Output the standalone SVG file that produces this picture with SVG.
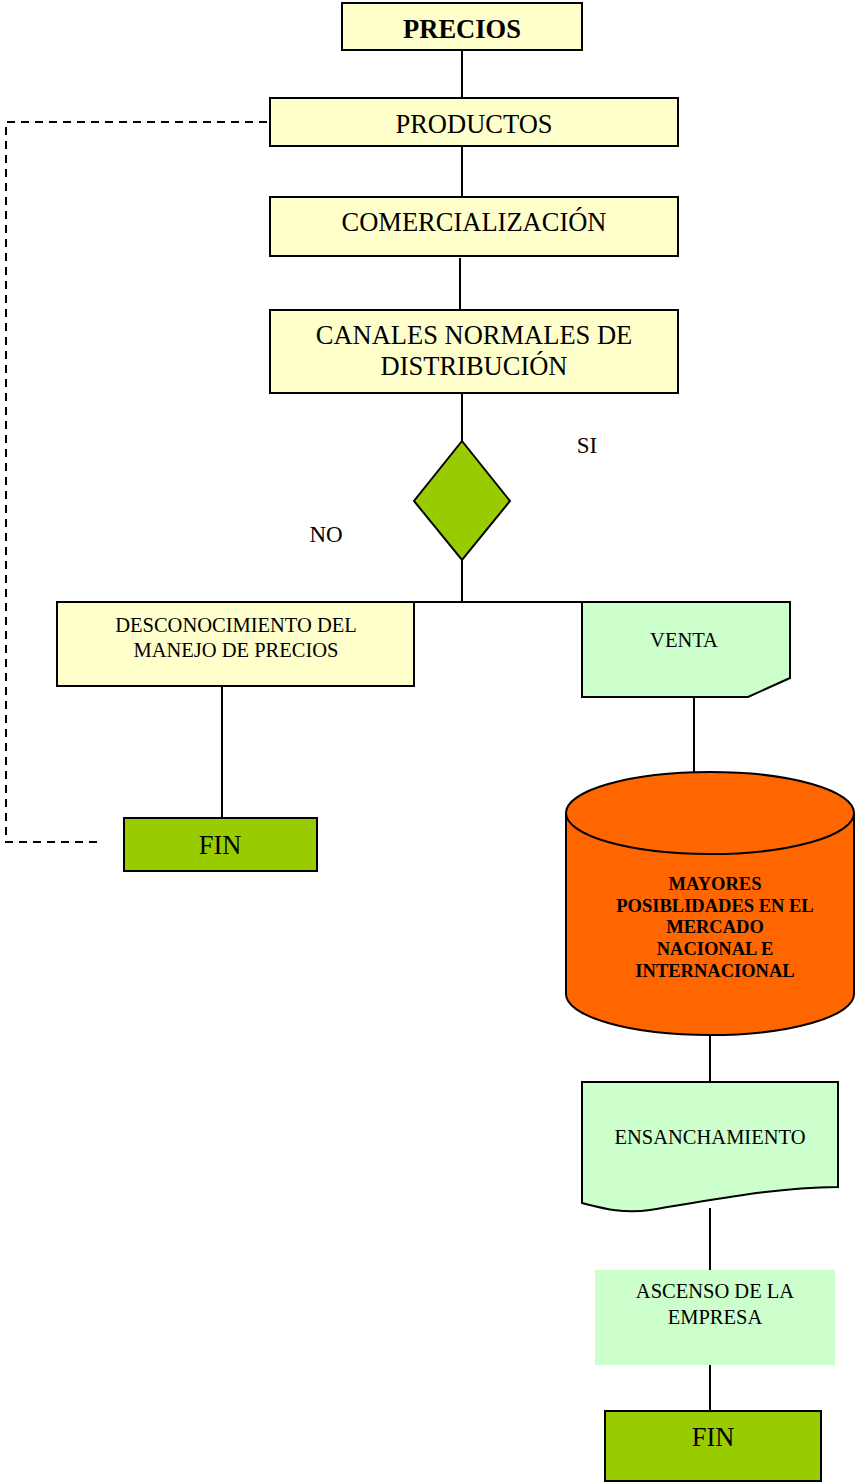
<svg xmlns="http://www.w3.org/2000/svg" width="855" height="1483" viewBox="0 0 855 1483">
  <style>
    text { font-family: "Liberation Serif", "Times New Roman", serif; fill: #000; text-anchor: middle; }
    .big { font-size: 26.5px; }
    .mid { font-size: 20.5px; }
    .lbl { font-size: 23px; }
    .cyl { font-size: 18.5px; font-weight: bold; }
    .yellow { fill: #FFFFCC; stroke: #000; stroke-width: 2; }
    .green { fill: #CCFFCC; stroke: #000; stroke-width: 2; }
    .lime { fill: #99CC00; stroke: #000; stroke-width: 2; }
    .conn { stroke: #000; stroke-width: 2; fill: none; }
    .dash { stroke: #000; stroke-width: 2; fill: none; stroke-dasharray: 8 6; }
  </style>

  <!-- connectors -->
  <g id="connectors">
    <line class="conn" x1="462" y1="50" x2="462" y2="98"/>
    <line class="conn" x1="462" y1="146" x2="462" y2="197"/>
    <line class="conn" x1="460" y1="258" x2="460" y2="310"/>
    <line class="conn" x1="462" y1="393" x2="462" y2="441"/>
    <line class="conn" x1="462" y1="560" x2="462" y2="602"/>
    <line class="conn" x1="414" y1="602" x2="582" y2="602"/>
    <line class="conn" x1="222" y1="686" x2="222" y2="818"/>
    <line class="conn" x1="694" y1="697" x2="694" y2="772"/>
    <line class="conn" x1="710" y1="1035" x2="710" y2="1082"/>
    <line class="conn" x1="710" y1="1208" x2="710" y2="1270"/>
    <line class="conn" x1="710" y1="1365" x2="710" y2="1411"/>
    <polyline class="dash" points="97,842 6,842 6,122 268,122"/>
  </g>

  <g id="precios">
    <rect class="yellow" x="342" y="3" width="240" height="47"/>
    <text class="big" x="462" y="38" font-weight="bold">PRECIOS</text>
  </g>

  <g id="productos">
    <rect class="yellow" x="270" y="98" width="408" height="48"/>
    <text class="big" x="474" y="133">PRODUCTOS</text>
  </g>

  <g id="comercializacion">
    <rect class="yellow" x="270" y="197" width="408" height="59"/>
    <text class="big" x="474" y="231">COMERCIALIZACIÓN</text>
  </g>

  <g id="canales">
    <rect class="yellow" x="270" y="310" width="408" height="83"/>
    <text class="big" x="474" y="344">CANALES NORMALES DE</text>
    <text class="big" x="474" y="375">DISTRIBUCIÓN</text>
  </g>

  <g id="decision">
    <polygon class="lime" points="462,441 510,501 462,560 414,501"/>
  </g>

  <g id="label-si">
    <text class="lbl" x="587" y="453">SI</text>
  </g>
  <g id="label-no">
    <text class="lbl" x="326" y="542">NO</text>
  </g>

  <g id="desconocimiento">
    <rect class="yellow" x="57" y="602" width="357" height="84"/>
    <text class="mid" x="236" y="632">DESCONOCIMIENTO DEL</text>
    <text class="mid" x="236" y="657">MANEJO DE PRECIOS</text>
  </g>

  <g id="fin-left">
    <rect class="lime" x="124" y="818" width="193" height="53"/>
    <text class="big" x="220" y="854">FIN</text>
  </g>

  <g id="venta">
    <polygon class="green" points="582,602 790,602 790,678 748,697 582,697"/>
    <text class="mid" x="684" y="647">VENTA</text>
  </g>

  <g id="mayores">
    <path d="M566,813 V994 A144,41 0 0 0 854,994 V813" fill="#FF6600" stroke="#000" stroke-width="2"/>
    <ellipse cx="710" cy="813" rx="144" ry="41" fill="#FF6600" stroke="#000" stroke-width="2"/>
    <text class="cyl" x="715" y="890">MAYORES</text>
    <text class="cyl" x="715" y="912">POSIBLIDADES EN EL</text>
    <text class="cyl" x="715" y="933">MERCADO</text>
    <text class="cyl" x="715" y="955">NACIONAL E</text>
    <text class="cyl" x="715" y="977">INTERNACIONAL</text>
  </g>

  <g id="ensanchamiento">
    <path class="green" d="M582,1082 H838 V1187 C770,1188 720,1199 650,1210 C622,1214 602,1208 582,1203 Z"/>
    <text class="mid" x="710" y="1144">ENSANCHAMIENTO</text>
  </g>

  <g id="ascenso">
    <rect x="595" y="1270" width="240" height="95" fill="#CCFFCC"/>
    <text class="mid" x="715" y="1298">ASCENSO DE LA</text>
    <text class="mid" x="715" y="1324">EMPRESA</text>
  </g>

  <g id="fin-right">
    <rect class="lime" x="605" y="1411" width="216" height="70"/>
    <text class="big" x="713" y="1446">FIN</text>
  </g>
</svg>
